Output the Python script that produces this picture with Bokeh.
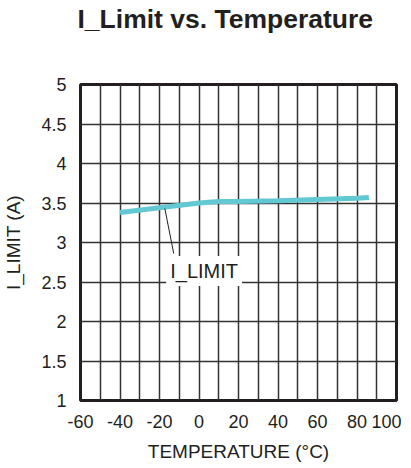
from bokeh.plotting import figure
from bokeh.models import FixedTicker, Range1d, Label, Title
from bokeh.embed import file_html
from bokeh.resources import INLINE

# data
temps = [-40, -20, 0, 10, 20, 40, 60, 80, 86]
ilimit = [3.38, 3.44, 3.50, 3.52, 3.52, 3.53, 3.545, 3.56, 3.57]
x_ticks = [-60, -40, -20, 0, 20, 40, 60, 80, 100]
y_ticks = [1, 1.5, 2, 2.5, 3, 3.5, 4, 4.5, 5]
x_grid = list(range(-60, 101, 10))
series_name = "I_LIMIT"
title_text = "I_Limit vs. Temperature"
# annotation anchor (data units)
leader_x = [-17.3, -12.8]
leader_y = [3.43, 2.86]
label_pos = (-16.6, 2.64)

FONT = "Liberation Sans"

p = figure(frame_width=316, frame_height=316, output_backend="svg", toolbar_location=None,
           x_range=Range1d(-60, 100), y_range=Range1d(1, 5),
           min_border_left=72, min_border_right=5, min_border_top=0, min_border_bottom=50)

# spacer between title and frame, then the title on top
p.add_layout(Title(text=" ", text_font_size="1px", standoff=43), "above")
p.add_layout(Title(text=title_text, text_font=FONT, text_font_size="26.5px",
                   text_font_style="bold", text_color="#231f20", align="left",
                   offset=-3, standoff=6, vertical_align="top"), "above")

p.outline_line_color = "#231f20"
p.outline_line_width = 3

p.xgrid.ticker = FixedTicker(ticks=x_grid)
p.ygrid.ticker = FixedTicker(ticks=y_ticks)
for g in (p.xgrid, p.ygrid):
    g.grid_line_color = "#333333"
    g.grid_line_width = 1.5
    g.grid_line_alpha = 1

p.xaxis.ticker = FixedTicker(ticks=x_ticks)
p.yaxis.ticker = FixedTicker(ticks=y_ticks)
p.xaxis.major_label_overrides = {t: str(t) for t in x_ticks}
p.yaxis.major_label_overrides = {t: ("%g" % t) for t in y_ticks}
for ax in (p.xaxis, p.yaxis):
    ax.axis_line_color = None
    ax.major_tick_line_color = None
    ax.minor_tick_line_color = None
    ax.major_label_text_font = FONT
    ax.major_label_text_font_size = "18px"
    ax.major_label_text_color = "#231f20"
    ax.axis_label_text_font = FONT
    ax.axis_label_text_font_size = "19px"
    ax.axis_label_text_font_style = "normal"
    ax.axis_label_text_color = "#231f20"
p.xaxis.axis_label = "TEMPERATURE (°C)"
p.yaxis.axis_label = "I_LIMIT (A)"
p.xaxis.major_label_standoff = 8
p.yaxis.major_label_standoff = 8
p.xaxis.axis_label_standoff = 10
p.yaxis.axis_label_standoff = 14

p.line(temps, ilimit, line_color="#62c8d2", line_width=5)

p.segment(x0=[leader_x[0]], y0=[leader_y[0]], x1=[leader_x[1]], y1=[leader_y[1]],
          line_color="#231f20", line_width=1)

lab = Label(x=label_pos[0], y=label_pos[1], text=series_name, text_font=FONT,
            text_font_size="20px", text_color="#231f20", text_baseline="middle",
            background_fill_color="white", padding=4)
p.add_layout(lab)

open("out.html", "w").write(file_html(p, INLINE))
